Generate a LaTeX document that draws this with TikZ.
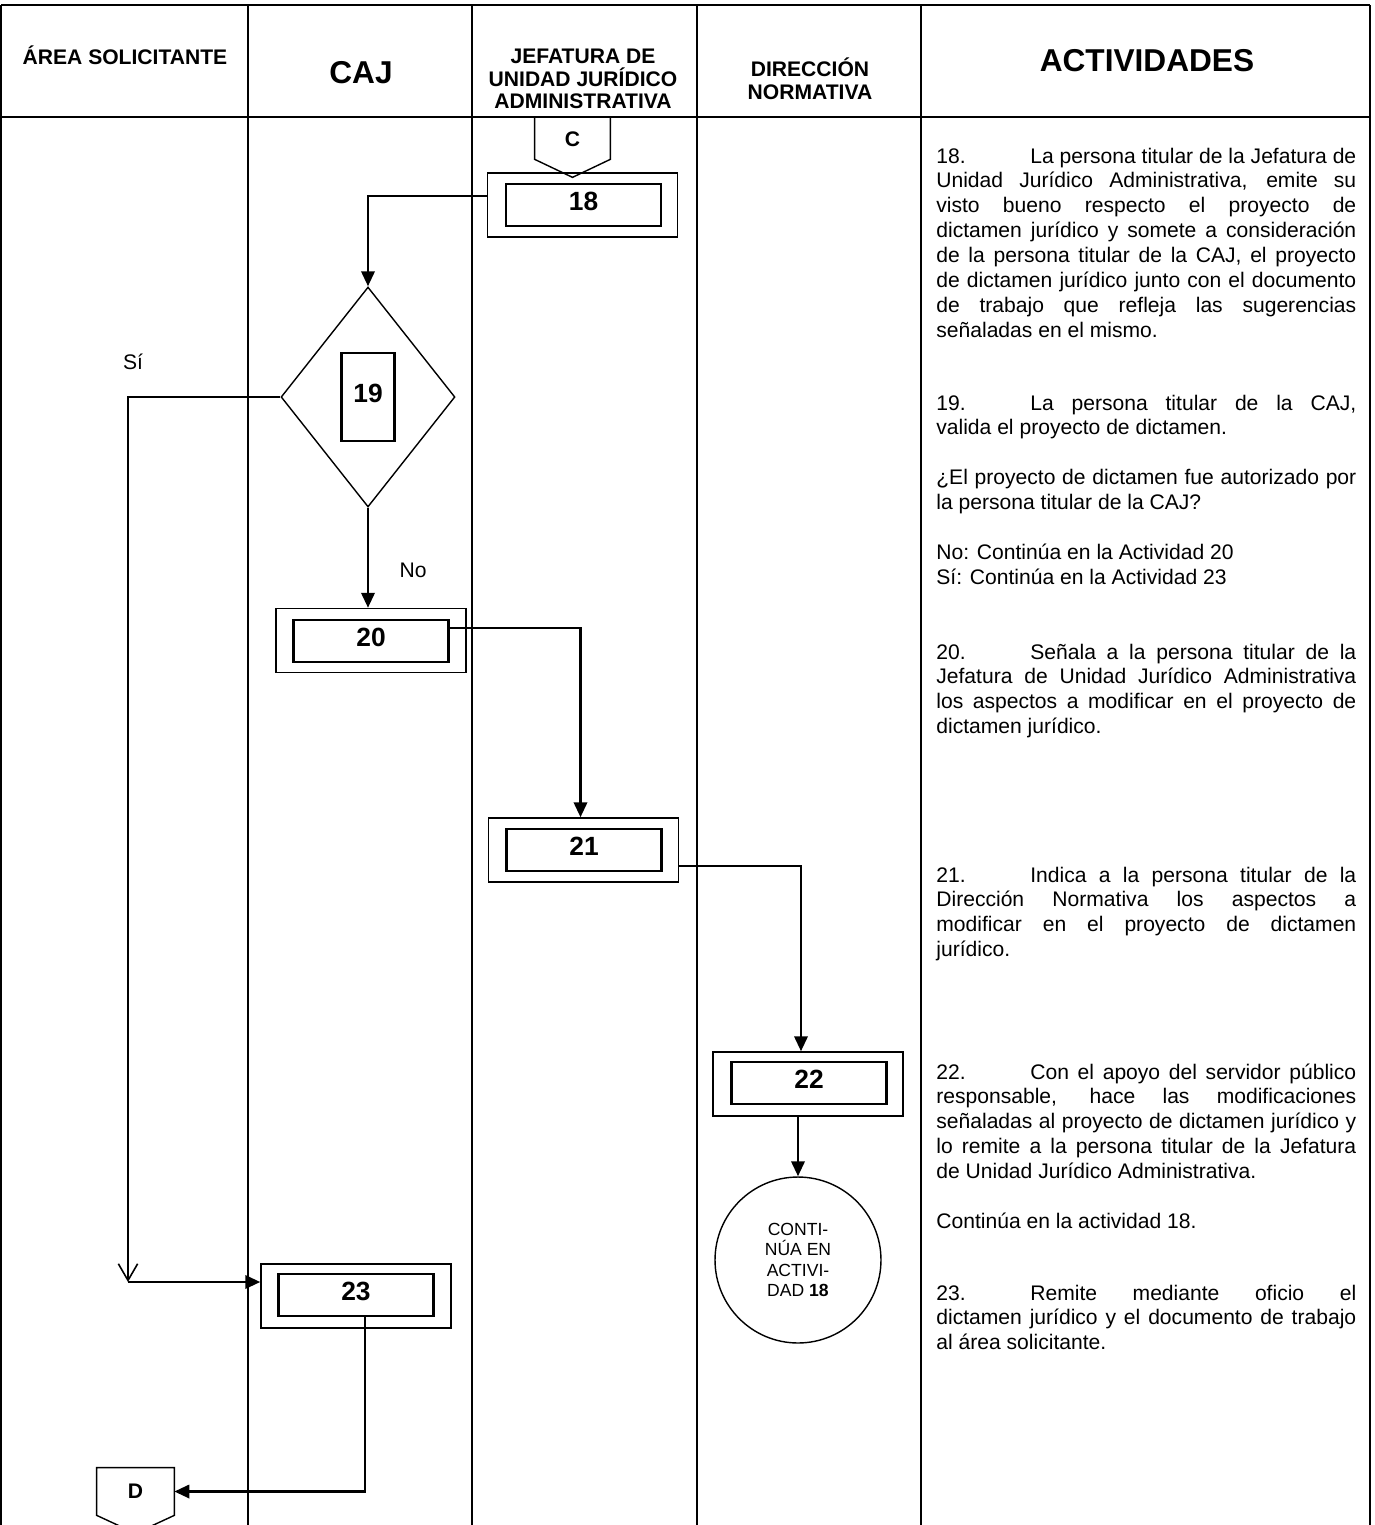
\documentclass[tikz,border=0pt]{standalone}
\usepackage{fontspec}
\setmainfont{Liberation Sans}
\usepackage{tikz}
\usetikzlibrary{shapes.geometric,arrows.meta,positioning,calc}
\hyphenpenalty=10000
\exhyphenpenalty=10000
\hbadness=10000
\tikzset{
  lane/.style={draw=black,line width=0.8pt},
  headtxt/.style={align=center,font=\bfseries\fontsize{12}{13}\selectfont},
  bigtxt/.style={font=\bfseries\fontsize{18}{20}\selectfont},
  actbox/.style={rectangle,draw=black,line width=0.8pt,minimum width=3.8cm,
                 minimum height=1.28cm,inner sep=0pt},
  numbox/.style={rectangle,draw=black,line width=1.5pt,minimum width=3.1cm,
                 minimum height=0.84cm,inner sep=0pt,text height=0.38cm,text depth=0.15cm,
                 font=\bfseries\fontsize{15}{17}\selectfont},
  decbox/.style={diamond,draw=black,line width=0.8pt,aspect=0.79,
                 minimum width=3.48cm,minimum height=4.4cm,inner sep=0pt},
  pagebox/.style={rectangle,minimum width=1.5cm,minimum height=0.8cm,inner sep=0pt,
                  font=\bfseries\fontsize{12}{14}\selectfont},
  endcirc/.style={circle,draw=black,line width=0.8pt,minimum size=3.32cm,
                  inner sep=0pt,align=center,font=\fontsize{10}{11.5}\selectfont},
  lbl/.style={font=\fontsize{12}{14}\selectfont},
  actext/.style={anchor=base west,inner sep=0pt,text width=8.4cm,align=justify,
                 font=\fontsize{12}{14.2}\selectfont},
  arr/.style={-{Triangle[length=8.5pt,width=7.5pt]},line width=1.6pt},
  openarr/.style={-{Straight Barb[length=9.5pt,width=11pt,line width=0.9pt]},line width=1.6pt}
}
\newcommand{\actnum}[1]{\makebox[1.88cm][l]{#1}}

\begin{document}
\begin{tikzpicture}[x=0.02cm,y=-0.02cm]
  \useasboundingbox (0,0) rectangle (1374,1525);

  % Lanes
  \draw[lane] (1,5) -- (1370,5);
  \draw[lane] (1,117) -- (1370,117);
  \foreach \lx in {1,248,472,697,921,1370}
    \draw[lane] (\lx,5) -- (\lx,1525);

  % Headers
  \node[headtxt] (hArea) at (125,55) {ÁREA SOLICITANTE};
  \node[bigtxt] (hCaj) at (361,73) {CAJ};
  \node[headtxt] (hJef) at (583,79) {JEFATURA DE\\UNIDAD JURÍDICO\\ADMINISTRATIVA};
  \node[headtxt] (hDir) at (810,79) {DIRECCIÓN\\NORMATIVA};
  \node[bigtxt] (hAct) at (1147,61) {ACTIVIDADES};

  % Off-page connector C
  \node[pagebox] (conC) at (572.5,139) {C};
  \draw[line width=0.8pt] (572.5,117) -| (conC.south east)
    -- ([yshift=-0.36cm]conC.south) -- (conC.south west) |- (572.5,117);

  % Activities
  \node[actbox] (b18) at (582.5,205) {};
  \node[numbox] (n18) at (583.5,205) {18};
  \node[decbox] (d19) at (368,397) {};
  \node[numbox,minimum width=1.06cm,minimum height=1.76cm] (n19) at (368,397) {19};
  \node[actbox] (b20) at (371,640.5) {};
  \node[numbox] (n20) at (371,641) {20};
  \node[actbox] (b21) at (583.5,850) {};
  \node[numbox] (n21) at (584,850) {21};
  \node[actbox] (b22) at (808,1084) {};
  \node[numbox] (n22) at (809,1083) {22};
  \node[endcirc] (fin) at (798,1260) {CONTI-\\NÚA EN\\ACTIVI-\\DAD \textbf{18}};
  \node[actbox] (b23) at (356,1296) {};
  \node[numbox] (n23) at (356,1295) {23};

  % Off-page connector D
  \node[pagebox,minimum width=1.54cm,minimum height=0.94cm] (conD) at (135.5,1491.5) {D};
  \draw[line width=0.8pt] (conD.north west) -- (conD.north east) -- (conD.south east)
    -- ([yshift=-0.36cm]conD.south) -- (conD.south west) -- cycle;

  % Decision labels
  \node[lbl] (lSi) at (133,362) {Sí};
  \node[lbl] (lNo) at (413,570) {No};

  % Connectors
  \coordinate (si) at (128,1282);
  \draw[arr] ([yshift=0.18cm]b18.west) -| (d19.north);
  \draw[openarr] (d19.west) -| (si);
  \draw[arr] (si) -- (si -| b23.west);
  \draw[arr] (d19.south) -- (d19.south |- b20.north);
  \draw[arr] ([yshift=0.26cm]n20.east) -| ([xshift=-0.06cm]b21.north);
  \draw[arr] ([yshift=-0.32cm]b21.east) -| ([xshift=0.06cm]fin.north |- b22.north);
  \draw[arr] (fin.north |- b22.south) -- (fin.north);
  \draw[arr] ([xshift=0.18cm]n23.south) |- (conD.east);

  % Activity descriptions
  \node[actext] (t18) at (936,163) {\actnum{18.}La persona titular de la Jefatura de\linebreak
    Unidad Jurídico Administrativa, emite su\linebreak
    visto bueno respecto el proyecto de\linebreak
    dictamen jurídico y somete a consideración\linebreak
    de la persona titular de la CAJ, el proyecto\linebreak
    de dictamen jurídico junto con el documento\linebreak
    de trabajo que refleja las sugerencias\linebreak
    señaladas en el mismo.};
  \node[actext] (t19) at (936,410) {\actnum{19.}La persona titular de la CAJ,\linebreak
    valida el proyecto de dictamen.\\[14.2pt]
    ¿El proyecto de dictamen fue autorizado por\linebreak
    la persona titular de la CAJ?\\[14.2pt]
    No: Continúa en la Actividad 20\\
    Sí: Continúa en la Actividad 23};
  \node[actext] (t20) at (936,659) {\actnum{20.}Señala a la persona titular de la\linebreak
    Jefatura de Unidad Jurídico Administrativa\linebreak
    los aspectos a modificar en el proyecto de\linebreak
    dictamen jurídico.};
  \node[actext] (t21) at (936,882) {\actnum{21.}Indica a la persona titular de la\linebreak
    Dirección Normativa los aspectos a\linebreak
    modificar en el proyecto de dictamen\linebreak
    jurídico.};
  \node[actext] (t22) at (936,1079) {\actnum{22.}Con el apoyo del servidor público\linebreak
    responsable, hace las modificaciones\linebreak
    señaladas al proyecto de dictamen jurídico y\linebreak
    lo remite a la persona titular de la Jefatura\linebreak
    de Unidad Jurídico Administrativa.\\[14.2pt]
    Continúa en la actividad 18.};
  \node[actext] (t23) at (936,1300) {\actnum{23.}Remite mediante oficio el\linebreak
    dictamen jurídico y el documento de trabajo\linebreak
    al área solicitante.};
\end{tikzpicture}
\end{document}
